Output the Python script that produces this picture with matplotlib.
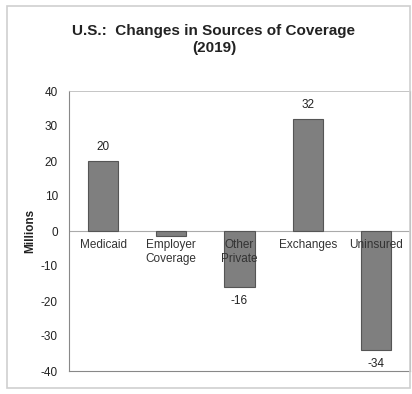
import matplotlib.pyplot as plt
from matplotlib.patches import Rectangle

plt.rcParams['font.family'] = ['Liberation Sans', 'DejaVu Sans']

categories = ["Medicaid", "Employer\nCoverage", "Other\nPrivate", "Exchanges", "Uninsured"]
values = [20, -1.5, -16, 32, -34]
labels = ["20", "", "-16", "32", "-34"]
yticks = [40, 30, 20, 10, 0, -10, -20, -30, -40]

W, H = 412, 394
fig = plt.figure(figsize=(W / 100, H / 100), dpi=100)

# outer frame
fig.patches.append(Rectangle((7 / W, 1 - 388 / H), 403 / W, 382 / H, transform=fig.transFigure,
                             fill=False, edgecolor="#cfcfcf", linewidth=1.2))

ax = fig.add_axes([69 / W, 1 - 371 / H, 341 / W, 280 / H])
x = list(range(len(categories)))
ax.bar(x, values, width=0.44, color="#7f7f7f", edgecolor="#555555", linewidth=0.8, zorder=3)
ax.axhline(0, color="#aaaaaa", linewidth=0.8, zorder=2)

for xi, v, lab in zip(x, values, labels):
    if not lab:
        continue
    if v >= 0:
        ax.text(xi, v + 2.3, lab, ha="center", va="bottom", fontsize=8.5, color="#222222")
    else:
        ax.text(xi, v - 2.3, lab, ha="center", va="top", fontsize=8.5, color="#222222")

for xi, cat in zip(x, categories):
    ax.text(xi, -2.2, cat, ha="center", va="top", fontsize=8.5, color="#333333", zorder=4,
            linespacing=1.25)

ax.set_xlim(-0.5, len(categories) - 0.5)
ax.set_ylim(-40, 40)
ax.set_yticks(yticks)
ax.set_yticklabels([str(t) for t in yticks], fontsize=8.5, color="#222222")
ax.set_xticks([])
ax.tick_params(axis="y", length=0, pad=8)
for s in ["left", "bottom", "right"]:
    ax.spines[s].set_color("#888888")
    ax.spines[s].set_linewidth(0.8)
ax.spines["top"].set_color("#bbbbbb")
ax.spines["top"].set_linestyle((0, (2, 1)))
ax.spines["top"].set_linewidth(0.6)
ax.set_ylabel("Millions", fontsize=8.5, fontweight="bold", color="#222222", labelpad=3)

fig.text(0.5 + 8 / W, 1 - 31 / H, "U.S.:  Changes in Sources of Coverage", ha="center", va="center",
         fontsize=11, fontweight="bold", color="#222222")
fig.text(0.5 + 8 / W, 1 - 48 / H, "(2019)", ha="center", va="center",
         fontsize=11, fontweight="bold", color="#222222")

fig.savefig("out.png", dpi=100)
